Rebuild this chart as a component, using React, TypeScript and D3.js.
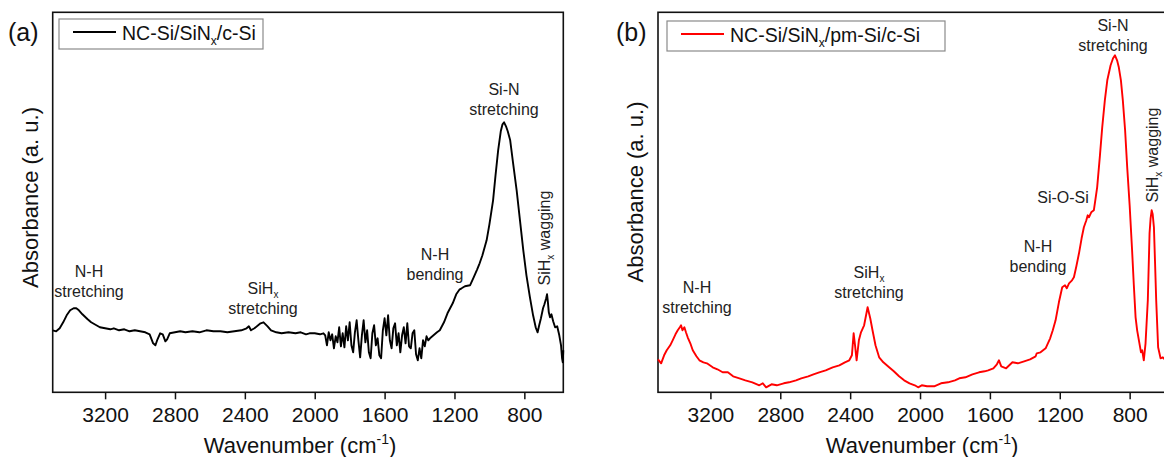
import React, { useRef, useEffect } from "react";
import { select, scaleLinear, line, axisBottom } from "d3";

const FONT = "'Liberation Sans', Arial, Helvetica, sans-serif";

// axis setup shared by both panels
const xTicks = [3200, 2800, 2400, 2000, 1600, 1200, 800];
const wnDomain = [3500, 577];
const absDomain = [0, 3.8];

// (a) NC-Si/SiNx/c-Si  [wavenumber cm-1, absorbance a.u.]
const spectrumA: [number, number][] = [
  [3500, 0.62], [3480, 0.61], [3460, 0.64], [3440, 0.7], [3420, 0.77], [3400, 0.82],
  [3380, 0.84], [3365, 0.84], [3350, 0.82], [3330, 0.78], [3300, 0.73], [3280, 0.7],
  [3250, 0.67], [3230, 0.65], [3200, 0.64], [3170, 0.63], [3150, 0.64], [3120, 0.62],
  [3090, 0.63], [3060, 0.61], [3030, 0.62], [3000, 0.61], [2970, 0.6], [2945, 0.58],
  [2925, 0.49], [2912, 0.47], [2900, 0.53], [2885, 0.59], [2870, 0.58], [2855, 0.51],
  [2845, 0.53], [2830, 0.59], [2800, 0.6], [2770, 0.61], [2740, 0.6], [2700, 0.61],
  [2660, 0.6], [2620, 0.62], [2580, 0.61], [2540, 0.61], [2500, 0.6], [2460, 0.61],
  [2420, 0.62], [2390, 0.64], [2377, 0.66], [2365, 0.62], [2345, 0.64], [2310, 0.69],
  [2293, 0.7], [2270, 0.66], [2250, 0.62], [2220, 0.6], [2190, 0.59], [2150, 0.6],
  [2110, 0.59], [2080, 0.6], [2050, 0.58], [2030, 0.59], [2000, 0.59], [1970, 0.58],
  [1950, 0.59], [1940, 0.57], [1930, 0.47], [1920, 0.6], [1910, 0.52], [1900, 0.58],
  [1890, 0.44], [1880, 0.56], [1870, 0.5], [1860, 0.65], [1850, 0.46], [1840, 0.59],
  [1830, 0.45], [1820, 0.66], [1810, 0.52], [1800, 0.7], [1790, 0.47], [1780, 0.4],
  [1770, 0.6], [1760, 0.72], [1750, 0.52], [1740, 0.35], [1730, 0.57], [1720, 0.72],
  [1710, 0.5], [1700, 0.62], [1690, 0.4], [1680, 0.34], [1670, 0.59], [1660, 0.67],
  [1650, 0.47], [1640, 0.54], [1630, 0.37], [1620, 0.34], [1610, 0.62], [1600, 0.74],
  [1590, 0.57], [1580, 0.77], [1570, 0.52], [1560, 0.44], [1550, 0.64], [1540, 0.69],
  [1530, 0.47], [1520, 0.59], [1510, 0.4], [1500, 0.57], [1490, 0.65], [1480, 0.49],
  [1470, 0.69], [1460, 0.46], [1450, 0.44], [1440, 0.59], [1430, 0.62], [1420, 0.38],
  [1410, 0.32], [1400, 0.44], [1390, 0.34], [1380, 0.52], [1370, 0.46], [1360, 0.56],
  [1350, 0.52], [1340, 0.54], [1320, 0.57], [1300, 0.6], [1284, 0.62], [1260, 0.7],
  [1240, 0.79], [1210, 0.89], [1190, 0.98], [1170, 1.03], [1159, 1.04], [1140, 1.06],
  [1111, 1.07], [1090, 1.15], [1070, 1.23], [1056, 1.29], [1040, 1.37], [1016, 1.52],
  [1000, 1.68], [979, 1.92], [965, 2.17], [950, 2.42], [935, 2.61], [925, 2.68],
  [916, 2.7], [905, 2.66], [895, 2.61], [881, 2.52], [865, 2.3], [844, 2.02],
  [825, 1.72], [806, 1.42], [788, 1.17], [768, 0.95], [750, 0.77], [735, 0.65],
  [724, 0.6], [715, 0.67], [705, 0.74], [693, 0.84], [685, 0.88], [675, 0.94],
  [670, 0.98], [665, 0.9], [660, 0.8], [653, 0.75], [645, 0.78], [635, 0.71],
  [624, 0.65], [612, 0.66], [600, 0.57], [590, 0.47], [584, 0.34], [580, 0.3],
  [577, 0.42],
];

// (b) NC-Si/SiNx/pm-Si/c-Si
const spectrumB: [number, number][] = [
  [3500, 0.33], [3482, 0.29], [3465, 0.37], [3450, 0.42], [3430, 0.47], [3416, 0.52],
  [3400, 0.58], [3387, 0.62], [3375, 0.65], [3368, 0.67], [3360, 0.62], [3349, 0.65],
  [3340, 0.6], [3330, 0.55], [3315, 0.49], [3301, 0.42], [3280, 0.36], [3263, 0.32],
  [3240, 0.3], [3220, 0.29], [3187, 0.25], [3160, 0.23], [3130, 0.2], [3100, 0.2],
  [3070, 0.16], [3034, 0.14], [3000, 0.12], [2960, 0.1], [2920, 0.07], [2900, 0.09],
  [2881, 0.05], [2850, 0.08], [2820, 0.07], [2780, 0.09], [2750, 0.1], [2710, 0.12],
  [2680, 0.14], [2640, 0.16], [2610, 0.18], [2577, 0.2], [2540, 0.22], [2500, 0.25],
  [2462, 0.27], [2430, 0.3], [2405, 0.32], [2390, 0.37], [2380, 0.59], [2372, 0.47],
  [2363, 0.32], [2350, 0.52], [2338, 0.6], [2320, 0.67], [2300, 0.85], [2285, 0.74],
  [2272, 0.62], [2255, 0.47], [2234, 0.35], [2210, 0.3], [2177, 0.25], [2150, 0.21],
  [2120, 0.16], [2091, 0.12], [2060, 0.09], [2030, 0.07], [2011, 0.05], [1990, 0.07],
  [1960, 0.06], [1919, 0.06], [1880, 0.09], [1840, 0.1], [1800, 0.12], [1775, 0.14],
  [1740, 0.15], [1700, 0.18], [1662, 0.2], [1630, 0.21], [1610, 0.22], [1580, 0.24],
  [1560, 0.28], [1548, 0.32], [1535, 0.26], [1507, 0.24], [1471, 0.3], [1440, 0.29],
  [1404, 0.31], [1370, 0.33], [1338, 0.36], [1332, 0.39], [1310, 0.4], [1281, 0.44],
  [1255, 0.54], [1240, 0.62], [1224, 0.72], [1205, 0.9], [1186, 1.05], [1170, 1.07],
  [1160, 1.04], [1147, 1.09], [1130, 1.12], [1119, 1.15], [1105, 1.26], [1090, 1.39],
  [1075, 1.54], [1062, 1.65], [1048, 1.72], [1040, 1.77], [1033, 1.75], [1020, 1.8],
  [1005, 1.82], [995, 1.94], [986, 2.05], [970, 2.37], [957, 2.65], [942, 2.92],
  [928, 3.12], [909, 3.27], [895, 3.34], [884, 3.37], [872, 3.32], [862, 3.25],
  [850, 3.12], [839, 2.92], [826, 2.62], [814, 2.25], [800, 1.87], [786, 1.42],
  [776, 1.07], [766, 0.75], [757, 0.62], [747, 0.52], [735, 0.4], [728, 0.42],
  [719, 0.32], [709, 0.49], [696, 0.92], [686, 1.59], [680, 1.74], [674, 1.82],
  [668, 1.78], [661, 1.65], [655, 1.32], [648, 0.92], [637, 0.45], [623, 0.34],
  [610, 0.35], [595, 0.32], [577, 0.3],
];

const legendA = "NC-Si/SiN|x|/c-Si";
const legendB = "NC-Si/SiN|x|/pm-Si/c-Si";

const PLOT_W = 510.6;
const TOP = 12.3;
const BOTTOM = 392.3;

// text with optional subscript part "a|sub|b"
const SubText = ({ s, sub = 12, shift = 5 }: { s: string; sub?: number; shift?: number }) => {
  const parts = s.split("|");
  if (parts.length < 3) return <>{s}</>;
  return (
    <>
      {parts[0]}
      <tspan fontSize={sub} dy={shift}>{parts[1]}</tspan>
      <tspan dy={-shift}>{parts[2]}</tspan>
    </>
  );
};

type Note = { lines: string[]; x: number; y: number; rotate?: boolean };

const notesA: Note[] = [
  { lines: ["N-H", "stretching"], x: 89, y: 277 },
  { lines: ["SiH|x|", "stretching"], x: 263, y: 294 },
  { lines: ["N-H", "bending"], x: 435, y: 260 },
  { lines: ["Si-N", "stretching"], x: 504, y: 95 },
  { lines: ["SiH|x| wagging"], x: 550, y: 238, rotate: true },
];

const notesB: Note[] = [
  { lines: ["N-H", "stretching"], x: 697, y: 293 },
  { lines: ["SiH|x|", "stretching"], x: 869, y: 278 },
  { lines: ["N-H", "bending"], x: 1038, y: 252 },
  { lines: ["Si-O-Si"], x: 1063, y: 203 },
  { lines: ["Si-N", "stretching"], x: 1113, y: 31 },
  { lines: ["SiH|x| wagging"], x: 1158, y: 155, rotate: true },
];

type PanelProps = {
  data: [number, number][];
  left: number;
  color: string;
  tag: string;
  tagX: number;
  legend: string;
  legendBox: [number, number, number, number];
  ylabelX: number;
  ylabelY: number;
  xlabelX: number;
  notes: Note[];
};

const Panel = (p: PanelProps) => {
  const axisRef = useRef<SVGGElement>(null);
  const x = scaleLinear().domain(wnDomain).range([p.left, p.left + PLOT_W]);
  const y = scaleLinear().domain(absDomain).range([BOTTOM, TOP]);

  useEffect(() => {
    const ax = axisBottom(x).tickValues(xTicks).tickSize(7).tickPadding(8).tickFormat(d => String(d));
    const g = select(axisRef.current).call(ax);
    g.select(".domain").remove();
    g.attr("font-size", 21).attr("font-family", FONT);
    g.selectAll("text").attr("fill", "#111");
    g.selectAll("line").attr("stroke", "#111").attr("stroke-width", 1.5);
  }, []);

  const path = line<[number, number]>().x(d => x(d[0])).y(d => y(d[1]))(p.data);
  const [bx, by, bw, bh] = p.legendBox;

  return (
    <g fontFamily={FONT}>
      <text x={p.tagX} y={41} fontSize={25} fill="#111">{p.tag}</text>
      <rect x={p.left} y={TOP} width={PLOT_W} height={BOTTOM - TOP} fill="none" stroke="#111" strokeWidth={1.6} />
      <g ref={axisRef} transform={`translate(0,${BOTTOM})`} />
      <path d={path ?? ""} fill="none" stroke={p.color} strokeWidth={1.9} strokeLinejoin="round" />

      {/* legend */}
      <rect x={bx} y={by} width={bw} height={bh} fill="white" stroke="#8a8a8a" strokeWidth={1.2} />
      <line x1={bx + 14} x2={bx + 57} y1={by + bh / 2 - 2} y2={by + bh / 2 - 2} stroke={p.color} strokeWidth={1.8} />
      <text x={bx + 63} y={by + 20.5} fontSize={19.5} fill="#111">
        <SubText s={p.legend} sub={12} shift={5} />
      </text>

      {/* axis titles */}
      <text transform={`translate(${p.ylabelX},${p.ylabelY}) rotate(-90)`} textAnchor="middle" fontSize={22} fill="#111">
        Absorbance (a. u.)
      </text>
      <text x={p.xlabelX} y={453} textAnchor="middle" fontSize={22} fill="#111">
        Wavenumber (cm<tspan fontSize={14} dy={-9}>-1</tspan><tspan dy={9}>)</tspan>
      </text>

      {/* band labels */}
      {p.notes.map((n, i) =>
        n.rotate ? (
          <text key={i} transform={`translate(${n.x},${n.y}) rotate(-90)`} textAnchor="middle" fontSize={16} fill="#222">
            <SubText s={n.lines[0]} sub={10} shift={4} />
          </text>
        ) : (
          n.lines.map((l, j) => (
            <text key={`${i}-${j}`} x={n.x} y={n.y + j * 20} textAnchor="middle" fontSize={16} fill="#222">
              <SubText s={l} sub={10} shift={4} />
            </text>
          ))
        )
      )}
    </g>
  );
};

export default function App() {
  return (
    <svg width={1164} height={457} style={{ position: "absolute", left: 0, top: 0, background: "white" }}>
      <Panel
        data={spectrumA}
        left={52.7}
        color="#000"
        tag="(a)"
        tagX={8}
        legend={legendA}
        legendBox={[59, 19, 204, 30]}
        ylabelX={37.5}
        ylabelY={197.5}
        xlabelX={300}
        notes={notesA}
      />
      <Panel
        data={spectrumB}
        left={658}
        color="#ff0000"
        tag="(b)"
        tagX={616}
        legend={legendB}
        legendBox={[667, 21, 278, 30]}
        ylabelX={643}
        ylabelY={192}
        xlabelX={922}
        notes={notesB}
      />
    </svg>
  );
}
